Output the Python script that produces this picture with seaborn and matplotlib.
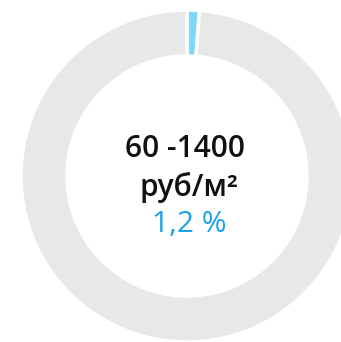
import matplotlib
matplotlib.use("Agg")
import matplotlib.pyplot as plt
import seaborn as sns

# share of the segment, %
labels = ["segment", "rest"]
shares = [1.2, 98.8]
colors = ["#7fd7f7", "#e8e8e8"]

title_range = "60 -1400"
title_unit = "руб/м²"
share_label = "1,2 %"

sns.set_theme(style="white")
plt.rcParams["font.family"] = ["Open Sans", "DejaVu Sans"]

fig = plt.figure(figsize=(3.41, 3.42), dpi=100)
ax = fig.add_axes([0, 0, 1, 1])

ax.pie(shares, colors=colors, startangle=90, counterclock=False,
       center=(187, 166), radius=166,
       wedgeprops=dict(width=46, edgecolor="white", linewidth=2.5))

ax.text(185, 193, title_range, ha="center", va="center", fontsize=21.5,
        fontweight="semibold", color="#111111")
ax.text(189, 155, title_unit, ha="center", va="center", fontsize=21.5,
        fontweight="semibold", color="#111111")
ax.text(189, 118, share_label, ha="center", va="center", fontsize=21.5,
        color="#1aa3e8")

ax.set_xlim(0, 341)
ax.set_ylim(0, 342)
ax.set_aspect("equal")
ax.axis("off")

fig.savefig("out.png", dpi=100, facecolor="white")
